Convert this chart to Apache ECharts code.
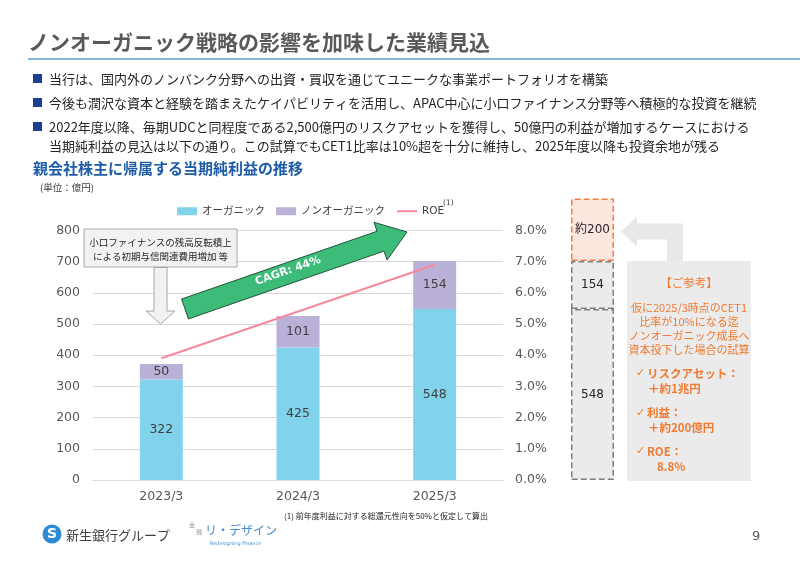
<!DOCTYPE html>
<html><head><meta charset="utf-8">
<script src="https://cdn.jsdelivr.net/npm/echarts@6/dist/echarts.min.js"></script>
<style>html,body{margin:0;padding:0;background:#fff}#c{width:800px;height:565px}</style>
</head><body><div id="c"></div>
<script>
// ---- data ----
const categories = ['2023/3', '2024/3', '2025/3'];
const organic = [322, 425, 548];
const nonOrganic = [50, 101, 154];
const roe = [3.9, 5.4, 6.9];
const refCategory = ['試算'];
const refBase = [548];
const refNonOrganic = [154];
const refExtra = [200];
const leftAxis = { min: 0, max: 800, interval: 100 };
const rightAxis = { min: 0, max: 8, interval: 1 };
const refAxisMax = 1000;
const seriesNames = ['オーガニック', 'ノンオーガニック', 'ROE'];

const JP = "'Noto Sans CJK JP', sans-serif";
const NUM = "'DejaVu Sans', 'Noto Sans CJK JP', sans-serif";
const ORANGE = '#F07A30';

// plot geometry
const plotTop = 230.4, plotBottom = 480;
const pxPerUnit = (plotBottom - plotTop) / leftAxis.max;

function txt(text, x, y, font, fill, align, z) {
  return { type: 'text', z: z || 100, style: { text: text, x: x, y: y, font: font, fill: fill || '#262626',
    textAlign: align || 'left', textVerticalAlign: 'middle' } };
}
// green arrow geometry (annotation)
function arrowPoly(tx, ty, px, py, sw, hw, hl) {
  const dx = px - tx, dy = py - ty, L = Math.hypot(dx, dy);
  const ux = dx / L, uy = dy / L, nx = -uy, ny = ux;
  const bx = px - ux * hl, by = py - uy * hl;
  return [
    [tx - nx * sw, ty - ny * sw], [bx - nx * sw, by - ny * sw], [bx - nx * hw, by - ny * hw],
    [px, py], [bx + nx * hw, by + ny * hw], [bx + nx * sw, by + ny * sw], [tx + nx * sw, ty + ny * sw]
  ];
}

const graphics = [
  txt('ノンオーガニック戦略の影響を加味した業績見込', 28, 42, 'bold 21px ' + JP, '#595959'),
  { type: 'line', z: 100, shape: { x1: 28, y1: 59, x2: 800, y2: 59 }, style: { stroke: '#5B9BD5', lineWidth: 1.5 } },
];
const bullets = [
  ['当行は、国内外のノンバンク分野への出資・買収を通じてユニークな事業ポートフォリオを構築', 79, true],
  ['今後も潤沢な資本と経験を踏まえたケイパビリティを活用し、APAC中心に小口ファイナンス分野等へ積極的な投資を継続', 103, true],
  ['2022年度以降、毎期UDCと同程度である2,500億円のリスクアセットを獲得し、50億円の利益が増加するケースにおける', 127, true],
  ['当期純利益の見込は以下の通り。この試算でもCET1比率は10%超を十分に維持し、2025年度以降も投資余地が残る', 146, false]
];
bullets.forEach(b => {
  if (b[2]) graphics.push({ type: 'rect', z: 100, shape: { x: 33, y: b[1] - 5, width: 9, height: 9 }, style: { fill: '#1F3E8F' } });
  graphics.push(txt(b[0], 49, b[1], '13px ' + JP, '#262626'));
});
graphics.push(txt('親会社株主に帰属する当期純利益の推移', 33, 168, 'bold 15px ' + JP, '#1F5CA8'));
graphics.push(txt('(単位：億円)', 40, 187, '9.5px ' + JP, '#404040'));

// callout box + down arrow
graphics.push({ type: 'rect', z: 100, shape: { x: 84, y: 229, width: 153, height: 38 }, style: { fill: '#F2F2F2', stroke: '#A6A6A6', lineWidth: 1 } });
graphics.push(txt('小口ファイナンスの残高反転積上', 160.5, 242, '9.5px ' + JP, '#262626', 'center'));
graphics.push(txt('による初期与信関連費用増加 等', 160.5, 256, '9.5px ' + JP, '#262626', 'center'));
graphics.push({ type: 'polygon', z: 100, shape: { points: [[154, 267.5], [167, 267.5], [167, 311], [175, 311], [160.5, 324], [146, 311], [154, 311]] },
  style: { fill: '#F2F2F2', stroke: '#A6A6A6', lineWidth: 1 } });

// green CAGR arrow
graphics.push({ type: 'polygon', z: 100, shape: { points: arrowPoly(185, 309, 407, 232, 10.5, 20, 28) },
  style: { fill: '#3DBB78', stroke: '#24553A', lineWidth: 1 } });
graphics.push({ type: 'text', z: 101, x: 288, y: 271, rotation: 0.333,
  style: { text: 'CAGR: 44%', x: 0, y: 0, font: 'bold 11px ' + NUM, fill: '#FFFFFF', textAlign: 'center', textVerticalAlign: 'middle' } });

// reference panel and arrow
graphics.push({ type: 'polygon', z: 90, shape: { points: [[621, 231.5], [637, 216.5], [637, 223.5], [683, 223.5], [683, 261], [667, 261], [667, 239.5], [637, 239.5], [637, 246.5]] },
  style: { fill: '#E8E8E8' } });
graphics.push({ type: 'rect', z: 90, shape: { x: 627, y: 261, width: 124, height: 220 }, style: { fill: '#EBEBEB' } });
graphics.push(txt('【ご参考】', 689, 283, '11.5px ' + JP, ORANGE, 'center'));
graphics.push(txt('仮に2025/3時点のCET1', 689, 307.5, '11px ' + JP, ORANGE, 'center'));
graphics.push(txt('比率が10%になる迄', 689, 322, '11px ' + JP, ORANGE, 'center'));
graphics.push(txt('ノンオーガニック成長へ', 689, 336, '11px ' + JP, ORANGE, 'center'));
graphics.push(txt('資本投下した場合の試算', 689, 350, '11px ' + JP, ORANGE, 'center'));
[['リスクアセット：', 373.5, '＋約1兆円', 388.5, 648],
 ['利益：', 413, '＋約200億円', 427.5, 648],
 ['ROE：', 451.5, '8.8%', 466.5, 657]].forEach(r => {
  graphics.push(txt('✓', 636, r[1], '11px ' + NUM, ORANGE));
  graphics.push(txt(r[0], 647, r[1], 'bold 11.5px ' + JP, ORANGE));
  graphics.push(txt(r[2], r[4], r[3], 'bold 11.5px ' + JP, ORANGE));
});

// footer
graphics.push(txt('(1) 前年度利益に対する総還元性向を50%と仮定して算出', 386, 516, '8px ' + JP, '#262626', 'center'));
graphics.push({ type: 'circle', z: 100, shape: { cx: 52, cy: 534, r: 9.5 }, style: { fill: '#2E8BD6' } });
graphics.push(txt('S', 52, 534.5, 'bold 14px ' + NUM, '#FFFFFF', 'center'));
graphics.push(txt('新生銀行グループ', 66, 535, '13px ' + JP, '#404040'));
graphics.push(txt('金', 192, 525, '6px ' + JP, '#9A9A9A', 'center'));
graphics.push(txt('融', 199, 532, '6px ' + JP, '#9A9A9A', 'center'));
graphics.push(txt('リ・デザイン', 205, 530, '12px ' + JP, '#4A8BD0'));
graphics.push(txt('Redesigning Finance', 210, 544, '5px ' + NUM, '#4A8BD0'));
graphics.push(txt('9', 752, 537, '13px ' + NUM, '#595959'));
graphics.push(txt('(1)', 443, 203, '7.5px ' + NUM, '#404040'));

const axisLabelStyle = { color: '#595959', fontSize: 12.5, fontFamily: NUM };

const option = {
  animation: false,
  backgroundColor: '#fff',
  textStyle: { fontFamily: NUM },
  legend: {
    data: [
      { name: seriesNames[0], icon: 'rect' },
      { name: seriesNames[1], icon: 'rect' },
      { name: seriesNames[2], itemStyle: { opacity: 0 } }
    ],
    left: 172, top: 201, itemWidth: 20, itemHeight: 8, itemGap: 11,
    textStyle: { color: '#404040', fontSize: 10.5, fontFamily: NUM }
  },
  grid: [
    { left: 93, right: 297, top: plotTop, bottom: 565 - plotBottom },
    { left: 571, width: 43, top: plotBottom - refAxisMax * pxPerUnit, bottom: 565 - plotBottom }
  ],
  xAxis: [
    { type: 'category', data: categories, gridIndex: 0,
      axisLine: { lineStyle: { color: '#D9D9D9' } }, axisTick: { show: false },
      axisLabel: { color: '#595959', fontSize: 12.5, fontFamily: NUM, margin: 10 } },
    { type: 'category', data: refCategory, gridIndex: 1, show: false }
  ],
  yAxis: [
    { type: 'value', gridIndex: 0, min: leftAxis.min, max: leftAxis.max, interval: leftAxis.interval,
      axisLine: { show: false }, axisTick: { show: false },
      splitLine: { lineStyle: { color: '#D9D9D9' } }, axisLabel: Object.assign({ margin: 13 }, axisLabelStyle) },
    { type: 'value', gridIndex: 0, min: rightAxis.min, max: rightAxis.max, interval: rightAxis.interval, position: 'right',
      axisLine: { show: false }, axisTick: { show: false }, splitLine: { show: false },
      axisLabel: Object.assign({ margin: 12, formatter: v => v.toFixed(1) + '%' }, axisLabelStyle) },
    { type: 'value', gridIndex: 1, min: 0, max: refAxisMax, show: false }
  ],
  series: [
    { name: seriesNames[0], type: 'bar', stack: 'a', data: organic, barWidth: 43,
      itemStyle: { color: '#80D3EA' },
      label: { show: true, position: 'inside', color: '#404040', fontSize: 12.5, fontFamily: NUM } },
    { name: seriesNames[1], type: 'bar', stack: 'a', data: nonOrganic, barWidth: 43,
      itemStyle: { color: '#BBB0D8' },
      label: { show: true, position: 'inside', color: '#404040', fontSize: 12.5, fontFamily: NUM } },
    { name: seriesNames[2], type: 'line', yAxisIndex: 1, data: roe, symbol: 'none', z: 5,
      lineStyle: { color: '#F4899C', width: 2 }, itemStyle: { color: '#F4899C' },
      label: { show: true, position: 'top', distance: 10, color: '#404040', fontSize: 12.5, fontFamily: NUM,
        formatter: p => p.value.toFixed(1) + '%' } },
    { type: 'bar', xAxisIndex: 1, yAxisIndex: 2, stack: 'r', data: refBase, barWidth: 43,
      itemStyle: { color: '#EBEBEB', borderColor: '#7F7F7F', borderWidth: 1.5, borderType: 'dashed' },
      label: { show: true, position: 'inside', color: '#262626', fontSize: 12, fontFamily: NUM } },
    { type: 'bar', xAxisIndex: 1, yAxisIndex: 2, stack: 'r', data: refNonOrganic, barWidth: 43,
      itemStyle: { color: '#EBEBEB', borderColor: '#7F7F7F', borderWidth: 1.5, borderType: 'dashed' },
      label: { show: true, position: 'inside', color: '#262626', fontSize: 12, fontFamily: NUM } },
    { type: 'bar', xAxisIndex: 1, yAxisIndex: 2, stack: 'r', data: refExtra, barWidth: 43,
      itemStyle: { color: '#FCE6DE', borderColor: '#F0803C', borderWidth: 1.5, borderType: 'dashed' },
      label: { show: true, position: 'inside', color: '#262626', fontSize: 12, fontFamily: NUM, formatter: p => '約' + p.value } }
  ],
  graphic: graphics
};
const chart = echarts.init(document.getElementById('c'), null, { renderer: 'canvas' });
chart.setOption(option);
</script></body></html>
